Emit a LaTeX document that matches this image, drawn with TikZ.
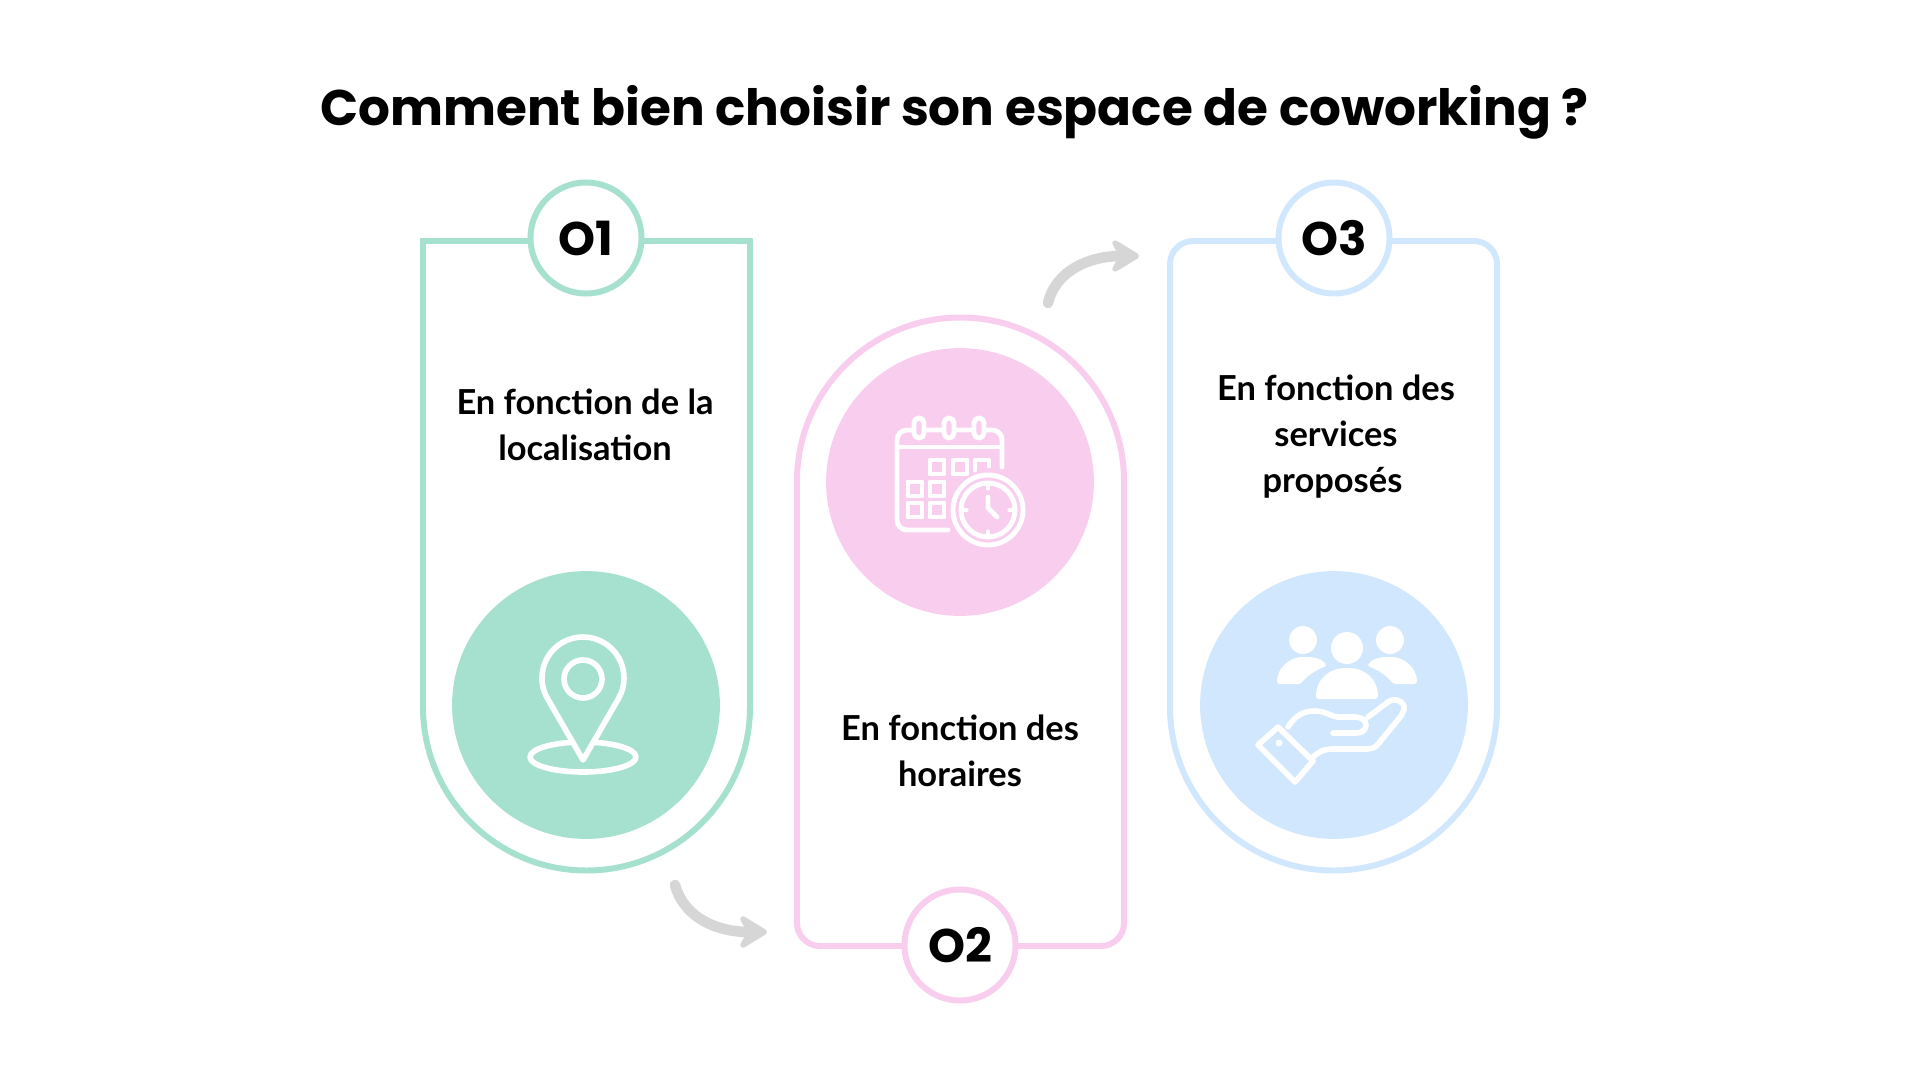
\documentclass[tikz,border=0pt]{standalone}
\usepackage{fontspec}
\usetikzlibrary{arrows.meta}
\newfontfamily\titlefont[BoldFont=Poppins Bold]{Poppins}
\setmainfont{Lato}
\definecolor{vert}{HTML}{A5E1CE}
\definecolor{rose}{HTML}{F9CDED}
\definecolor{bleu}{HTML}{D0E7FD}
\definecolor{gris}{HTML}{D6D6D6}
\tikzset{
	panel/.style = {line width = 8.5pt, fill = none},
	badge/.style = {circle, line width = 8.5pt, fill = white, minimum size = 158pt, inner sep = 0pt, font = \titlefont\bfseries\fontsize{67}{67}\selectfont},
	disc/.style = {circle, minimum size = 381pt, inner sep = 0pt},
	etiquette/.style = {align = center, font = \bfseries\fontsize{49}{65}\selectfont},
	fleche/.style = {gris, line width = 15pt, line cap = round, -{Stealth[length = 48pt, width = 58pt, inset = 16pt, round]}},
	icone/.style = {white, line width = 8pt, line cap = round, line join = round},
	trait/.style = {icone, line width = 7pt},
}
\begin{document}
\begin{tikzpicture}[x = .05cm, y = -.05cm]
	\useasboundingbox (0,0) rectangle (1920,1080);
	\fill[white] (0,0) rectangle (1920,1080);
	\node[font = \titlefont\bfseries\fontsize{71.2}{71.2}\selectfont] (titre) at (954.5,112) {Comment bien choisir son espace de coworking ?};
	% panels
	\draw[panel, vert] (423,241) -- (750,241) -- (750,707) arc (0:180:163.5) -- cycle;
	\draw[panel, rose] (797,481) arc (180:360:163.5) -- (1124,923) arc (0:90:23) -- (820,946) arc (90:180:23) -- cycle;
	\draw[panel, bleu] (1170,264) arc (180:270:23) -- (1474,241) arc (270:360:23) -- (1497,707) arc (0:180:163.5) -- cycle;
	% discs
	\node[disc, fill = vert] (disque1) at (586,705) {};
	\node[disc, fill = rose] (disque2) at (960,482) {};
	\node[disc, fill = bleu] (disque3) at (1334,705) {};
	% badges
	\node[badge, draw = vert] (num1) at (586,238) {O1};
	\node[badge, draw = rose] (num2) at (960,945) {O2};
	\node[badge, draw = bleu] (num3) at (1334,238) {O3};
	% labels
	\node[etiquette] (texte1) at (585,425) {En fonction de la\\localisation};
	\node[etiquette] (texte2) at (960,751) {En fonction des\\horaires};
	\node[etiquette] (texte3) at (1336,436.5) {En fonction des\\services\\proposés\hspace*{10pt}};
	% arrows
	\coordinate (depart1) at (675,885);
	\coordinate (arrivee1) at (767,932);
	\coordinate (depart2) at (1048,303);
	\coordinate (arrivee2) at (1139,256);
	\draw[fleche] (depart1) .. controls (685,920) and (720,932) .. (arrivee1);
	\draw[fleche] (depart2) .. controls (1056,270) and (1090,256) .. (arrivee2);
	% pin
	\draw[icone] (583,757) ellipse (53 and 15);
	\draw[icone, fill = vert] (583,760) -- (547.5,698.5) arc (150:390:41) -- cycle;
	\draw[icone] (583,679) circle (19);
	% calendar
	\draw[trait] (948,530) -- (907,530) arc (90:180:10) -- (897,440) arc (180:270:10) -- (992,430) arc (270:360:10) -- (1002,467);
	\draw[trait] (897,447) -- (1002,447);
	\foreach \x in {919,949,979} {
		\draw[trait, fill = rose, rounded corners = 7pt] (\x-5,418) rectangle (\x+5,438);
	}
	\foreach \x/\y in {937/467, 960/467, 915/489, 937/489, 915/510, 937/510} {
		\draw[trait] (\x-7,\y-7) rectangle (\x+7,\y+7);
	}
	\draw[trait] (975,470) -- (975,460) -- (989,460) -- (989,466);
	\draw[trait, fill = rose] (988,510) circle (35);
	\draw[trait] (988,510) circle (27);
	\foreach \a in {0,90,180,270} {
		\draw[trait, line width = 4.5pt] (988,510) ++(\a:27) -- ++(\a:-6);
	}
	\draw[trait] (988,497) -- (988,508) -- (997,517);
	% people and hand
	\fill[white] (1303,640) circle (14);
	\fill[white] (1390,640) circle (14);
	\fill[white] (1347,648) circle (16);
	\fill[white, rounded corners = 4pt] (1277,684) .. controls (1277,668) and (1290,657) .. (1305,657) .. controls (1316,657) and (1323,660) .. (1327,666) .. controls (1315,670) and (1305,678) .. (1301,684) -- cycle;
	\fill[white, rounded corners = 4pt] (1417,684) .. controls (1417,668) and (1404,657) .. (1389,657) .. controls (1378,657) and (1371,660) .. (1367,666) .. controls (1379,670) and (1389,678) .. (1393,684) -- cycle;
	\fill[white, rounded corners = 4pt] (1316,699) .. controls (1316,678) and (1331,668) .. (1347,668) .. controls (1363,668) and (1378,678) .. (1378,699) -- cycle;
	\draw[icone] (1288,727) .. controls (1296,714) and (1305,711) .. (1315,711) .. controls (1325,711) and (1330,716) .. (1338,717) -- (1355,717) .. controls (1362,717) and (1366,721) .. (1366,725) .. controls (1366,730) and (1362,733) .. (1356,733) -- (1333,733);
	\draw[icone] (1368,717) -- (1388,702) .. controls (1394,698) and (1400,700) .. (1403,704) .. controls (1406,708) and (1403,712) .. (1401,716) -- (1379,743) .. controls (1375,748) and (1372,749) .. (1366,749) -- (1333,749) .. controls (1324,749) and (1318,752) .. (1312,758);
	\draw[icone] (1258,745) -- (1278,727) -- (1313,761) -- (1295,782) -- cycle;
	\fill[white] (1279,743) circle (3.5);
\end{tikzpicture}
\end{document}
